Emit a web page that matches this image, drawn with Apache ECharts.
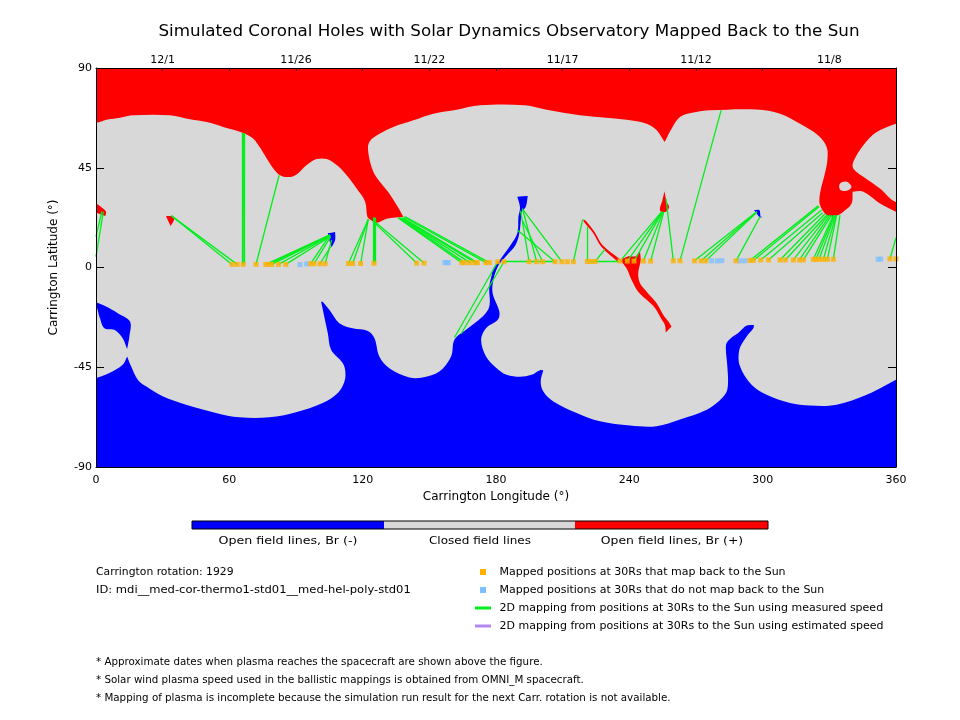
<!DOCTYPE html>
<html>
<head>
<meta charset="utf-8">
<title>Simulated Coronal Holes</title>
<script src="https://cdn.jsdelivr.net/npm/echarts@6/dist/echarts.min.js"></script>
<style>
  html, body { margin: 0; padding: 0; background: #fff; }
  #chart { width: 960px; height: 720px; }
</style>
</head>
<body>
<div id="chart"></div>
<script>
// date labels on the top axis (Carrington longitude -> date)
var dateLon = [30, 90, 150, 210, 270, 330];
var dateLabels = ['12/1', '11/26', '11/22', '11/17', '11/12', '11/8'];

// open field regions, [lon, lat]. a repeated pair keeps a cusp sharp,
// pairs beyond the axis range only push the outline past the clip
var northRed = [[-8,98],[-8,98],[-8,63.5],[0,65.2],[4.8,66.7],[10.8,67.6],[16.8,68.7],[33.3,68.7],[42.3,66.9],[49.8,65.6],[57.3,63.4],[66.3,60.7],[70.8,58.1],[73.8,54.1],[76.8,49.2],[79.8,44.7],[82.8,41.6],[86.6,40.8],[90.3,42],[94.8,46.2],[99.3,48.9],[103.8,48.9],[108.3,46.2],[112.8,41.6],[117.3,35.6],[121.1,29.7],[122.1,22.9],[123.3,21.7],[126.3,20.2],[130.8,22],[138.3,22.9],[138.3,22.9],[135.3,28.2],[131.5,34.1],[127.8,38.6],[124.8,43.2],[122.6,51.4],[123,56.6],[127.8,60.4],[133.8,63.4],[142.8,66.4],[151.8,69.4],[162.3,71.2],[172.8,73.2],[193,73.2],[202.8,71.2],[217.8,68.7],[238.8,66.7],[247.8,64.9],[252.3,61.9],[255.9,56.6],[255.9,56.6],[259,62.6],[262.8,67.9],[268.8,69.9],[276.3,70.9],[297.3,71.3],[307.8,69.4],[316.8,64.9],[325,59.6],[328.8,54.4],[329.1,48.4],[328,42.4],[325.8,33.4],[325.8,28.2],[328.8,23.7],[332.6,23.2],[336.3,25.2],[340,28.9],[340.5,34.2],[340.5,34.2],[345.3,34.2],[352.8,28.9],[360,25.2],[368,22],[368,22],[368,32],[360,29.6],[352.8,35.6],[345.3,40.9],[340.8,44.7],[340.8,47.7],[345.3,55.2],[351.3,61.1],[360,64.9],[368,67],[368,98],[368,98]];
var northHole = [[334.8,37.9],[337.8,38.7],[340,36.4],[337.8,34.6],[334.8,35.2]];
var redEdge = [[-4,30.5],[-4,30.5],[0,28.9],[2.6,27.1],[4.5,25.2],[4.2,23.2],[4.2,23.2],[0,24.7],[-4,25],[-4,25]];
var redSpot32 = [[31.5,23.2],[31.5,23.2],[34.8,23.2],[34.8,23.2],[35.1,21.4],[33.6,18.7],[33.6,18.7],[32.6,20.7]];
var redSpot255 = [[255.8,34.4],[255.8,34.4],[256.8,29.6],[257.9,27.4],[256.5,25.2],[253.8,25.6],[254.9,30.4]];
var redFilament = [[219.3,21.7],[219.3,21.7],[220.4,21.1],[224.2,16.2],[228,10],[235.8,3.7],[235.8,3.7],[234.6,2.8],[234.6,2.8],[227.4,9.4],[223.7,15.6],[219.6,20.5]];
var redTongue = [[235.8,3.4],[235.8,3.4],[239,4.9],[243,5.2],[244.8,7.1],[244.8,7.1],[245.1,3.4],[244,-2.6],[244.8,-7.1],[247.8,-10.9],[252.3,-16.1],[255.3,-21.4],[257.6,-24.4],[259,-26.6],[259,-26.6],[256.4,-29.3],[256.4,-29.3],[256,-25.9],[254.6,-23.6],[251.6,-18.4],[247.8,-14.6],[244,-10.9],[241,-5.6],[238.8,-0.4]];

var southBlue = [[-8,-98],[-8,-98],[-8,-52],[0,-49.9],[6,-47.6],[12,-43.9],[14,-40.1],[14,-40.1],[15.8,-44.6],[18.8,-50.6],[22.5,-53.6],[30,-58.1],[40.5,-61.9],[54,-65.6],[64.5,-67.6],[78,-67.6],[90,-65.3],[102,-61.1],[108.8,-56.6],[111.8,-51.4],[112.2,-46.9],[111,-43.1],[105.8,-37.1],[104.3,-29.6],[101.3,-15.4],[101.3,-15.4],[102,-15.4],[102,-15.4],[105,-19.1],[109.5,-25.1],[115.5,-27.4],[122.3,-28.6],[125.3,-31.9],[127.5,-40.1],[132,-45.4],[141,-49.6],[147,-49.6],[154.5,-46.9],[159.8,-40.1],[161.3,-32.6],[166.5,-28.1],[174,-22.1],[177,-17.6],[177,-8.6],[178.5,-2.6],[180.8,1.1],[180.8,1.1],[178.8,-4.9],[178.5,-11.6],[181.5,-19.9],[180.8,-23.6],[175.5,-27.4],[173.3,-32.6],[175.5,-40.1],[180.3,-45.4],[184.8,-48.4],[190.8,-49.3],[196,-48.4],[199.8,-46.3],[201.3,-46.4],[201.3,-46.4],[200.1,-51.4],[201.3,-55.9],[205.8,-60.4],[216.3,-65.6],[226.8,-69.4],[240.3,-71.3],[252.3,-71.6],[262.8,-68.6],[273.3,-64.9],[279.3,-61.1],[283.5,-56.6],[284.4,-52.1],[284.1,-44.6],[283.5,-34.9],[285.3,-32.2],[289,-29.6],[292.8,-26.2],[296.1,-25.9],[296.1,-25.9],[295.8,-27.4],[292.8,-31.1],[289.5,-37.1],[289.8,-44.6],[295,-52.9],[301.8,-57.4],[312.3,-61.1],[321.3,-62.3],[333.3,-61.9],[346.8,-57.4],[355.8,-52.9],[360,-50.6],[368,-48],[368,-98],[368,-98]];
var blueEdge = [[-4,-15],[-4,-15],[0,-15.8],[4.5,-17.6],[9.8,-20.6],[15.3,-24.4],[15,-31.1],[14,-36.8],[14,-36.8],[12,-31.9],[8.3,-28.1],[3.8,-27.4],[1.5,-22.1],[0,-17.6],[-4,-16],[-4,-16]];
var blueFilament = [[189.6,31.9],[189.6,31.9],[194.3,32.2],[194.3,32.2],[193.4,27.4],[191.5,25],[191.3,22.9],[190.5,15.4],[188.8,10.2],[184.3,4.9],[181.3,1.2],[179.1,-4.1],[178.5,-8],[178.5,-8],[178,-4.9],[178.8,-0.4],[181.5,3.1],[182.8,4.9],[186.6,10.2],[189.6,15.4],[190.1,22.9],[190.8,27.1]];
var blueSpot105 = [[104.3,15.4],[104.3,15.4],[107.6,16],[107.6,16],[107.6,12.4],[106,9.1],[106,9.1],[105,12.4]];
var blueSpot298 = [[296.1,25.9],[296.1,25.9],[298.5,25.9],[299.1,22.9],[300,22.9],[300,22.9],[298.8,22.6],[297,24.7]];

// positions at 30Rs that map back, with their foot points on the Sun
var mappedLon = [61.2,63.5,66.2,72,76.4,77.6,79.1,82.1,85.4,96.6,98.1,100.8,103.1,113.6,115.5,119.1,125.1,144.3,147.6,164.6,166,168.3,170.6,171.6,175.5,177,180.8,183.6,194.9,198.3,201,206.6,209.6,212.1,214.8,221.1,222.6,224.6,235.8,239.1,242.1,246.3,249.6,259.8,262.8,269.3,272.3,274.4,288,294.3,295.8,299.1,302.6,307.8,310.2,313.8,316.5,318.3,322.8,324,325.4,327.3,329.1,331.8,357.3,360];
var mappedLat = [1.4,1.4,1.4,1.4,1.4,1.4,1.4,1.4,1.4,1.7,1.7,1.7,1.7,1.8,1.8,1.8,1.9,2,2,2.2,2.2,2.2,2.2,2.2,2.2,2.2,2.6,2.6,2.6,2.6,2.6,2.6,2.6,2.6,2.6,2.7,2.7,2.7,2.9,2.9,2.9,2.9,2.9,3,3,3,3,3,3,3.2,3.2,3.4,3.4,3.4,3.4,3.4,3.4,3.4,3.7,3.7,3.7,3.7,3.7,3.7,3.9,3.9];
var footLon = [34.1,33.8,66.3,82.4,105.3,105.3,105.3,105.3,105.3,105.3,105.6,105.6,106,122.5,122.5,122.5,125.1,125.6,125.6,136,136.5,137,137.5,138,138.5,139,161.3,164.3,191.1,191.9,192,189.6,192.3,null,219,221.2,null,229,254.5,254.7,254.9,255.2,255.5,256.5,281.3,297.3,297.3,297.5,298.8,325,325.5,326.5,327,328,328.8,329.5,330.3,331,331.8,332.1,332.5,333,333.3,334.8,360,null];
var footLat = [23.2,23.4,60.7,41.6,14.7,14.7,14.5,14.2,13.9,14.7,13.9,9.4,12.4,21.7,21.7,21.7,22.6,19.9,20.5,22.4,22.4,22.4,22.4,22.4,22.8,23,-31.6,-29.9,25.6,26.6,21,16.9,25.9,null,21.7,18.4,null,8.2,25.1,25.1,25.1,25.1,25.1,31.1,70.9,25.1,25.1,25,22.9,27.8,27.5,25.9,24.7,24.1,23.6,23.6,23.6,23.6,23.6,23.6,23.6,23.6,23.6,23.6,13.4,null];

// segments not tied to one marker: wrapped lines, thick bundles, flat runs near the equator
var extraSegments = [[0,4.9,3.3,25.2],[0,13.9,2.6,25.2],[65.8,1.4,65.8,60.7],[66.8,1.4,66.8,60.7],[124.7,1.9,124.7,22.6],[125.6,1.9,125.6,22.6],[183,3,195,3],[195,2.7,207,2.7],[222,2.7,235.8,2.7]];

// positions at 30Rs that do not map back
var unmappedLon = [91.8,94.8,157,157.8,158.5,277,279.6,281.6,289.8,292,352,353.1];
var unmappedLat = [1.3,1.6,2.2,2.2,2.2,3,3,3.1,3,3,3.7,3.8];

var RED = '#ff0000', BLUE = '#0000ff', GRAY = '#d8d8d8';
var GREEN = '#00ee1c', ORANGE = '#ffb000', LIGHTBLUE = '#80bfff', PURPLE = '#b388ee';
var FONT = '"DejaVu Sans"';

var myChart = echarts.init(document.getElementById('chart'));

// filled region: the whole array is one polygon
function regionSeries(points, color, z) {
    return {
        type: 'custom',
        coordinateSystem: 'cartesian2d',
        silent: true,
        z: z,
        clip: true,
        data: points,
        encode: { x: 0, y: 1 },
        renderItem: function(params, api) {
            if (params.dataIndex !== 0) return;
            return {
                type: 'polygon',
                shape: { points: points.map(function(p) { return api.coord(p); }), smooth: 0.35 },
                style: { fill: color }
            };
        }
    };
}

function zipPoints(xs, ys) {
    return xs.map(function(x, i) { return [x, ys[i]]; });
}

var mapLines = [];
mappedLon.forEach(function(lon, i) {
    if (footLon[i] === null) return;
    mapLines.push({ coords: [[lon, mappedLat[i]], [footLon[i], footLat[i]]] });
});
extraSegments.forEach(function(s) {
    mapLines.push({ coords: [[s[0], s[1]], [s[2], s[3]]] });
});

// the original lettering runs wider than any installed font, so stretch it a little
function label(x, y, text, align, size, stretch) {
    return {
        type: 'text', x: x, y: y, scaleX: stretch || 1, silent: true,
        style: { text: text, fill: '#000', font: (size || 11) + 'px ' + FONT, textAlign: align || 'left', textVerticalAlign: 'middle' }
    };
}
function box(x, y, w, h, color) {
    return { type: 'rect', silent: true, shape: { x: x, y: y, width: w, height: h }, style: { fill: color } };
}

var option = {
    animation: false,
    backgroundColor: '#fff',
    grid: { left: 96, top: 68, width: 800, height: 399, show: true, backgroundColor: GRAY, borderWidth: 0 },
    xAxis: [{
        type: 'value', position: 'bottom', min: 0, max: 360, interval: 60, z: 10,
        name: 'Carrington Longitude (°)', nameLocation: 'middle', nameGap: 18,
        nameTextStyle: { fontFamily: FONT, fontSize: 12, color: '#000' },
        axisLine: { onZero: false, lineStyle: { color: '#000', width: 1 } },
        axisTick: { show: false },
        axisLabel: { color: '#000', fontFamily: FONT, fontSize: 11, margin: 8, showMinLabel: true, showMaxLabel: true },
        splitLine: { show: false }
    }, {
        type: 'value', position: 'top', min: 0, max: 360, interval: 30, z: 10,
        axisLine: { onZero: false, lineStyle: { color: '#000', width: 1 } },
        axisTick: { inside: true, length: 3, lineStyle: { color: '#000' } },
        axisLabel: {
            color: '#000', fontFamily: FONT, fontSize: 11, margin: 2,
            formatter: function(v) {
                var i = dateLon.indexOf(v);
                return i < 0 ? '' : dateLabels[i];
            }
        },
        splitLine: { show: false }
    }],
    yAxis: [{
        type: 'value', position: 'left', min: -90, max: 90, interval: 45, z: 10,
        name: 'Carrington Latitude (°)', nameLocation: 'middle', nameGap: 36, nameRotate: 90,
        nameTextStyle: { fontFamily: FONT, fontSize: 12, color: '#000' },
        axisLine: { onZero: false, lineStyle: { color: '#000', width: 1 } },
        axisTick: { inside: true, length: 8, lineStyle: { color: '#000' } },
        axisLabel: { color: '#000', fontFamily: FONT, fontSize: 11, margin: 4 },
        splitLine: { show: false }
    }, {
        type: 'value', position: 'right', min: -90, max: 90, interval: 45, z: 10,
        axisLine: { onZero: false, lineStyle: { color: '#000', width: 1 } },
        axisTick: { inside: true, length: 8, lineStyle: { color: '#000' } },
        axisLabel: { show: false },
        splitLine: { show: false }
    }],
    series: [
        regionSeries(northRed, RED, 2),
        regionSeries(northHole, GRAY, 3),
        regionSeries(redEdge, RED, 2),
        regionSeries(redSpot32, RED, 2),
        regionSeries(redSpot255, RED, 2),
        regionSeries(redFilament, RED, 2),
        regionSeries(redTongue, RED, 2),
        regionSeries(southBlue, BLUE, 2),
        regionSeries(blueEdge, BLUE, 2),
        regionSeries(blueFilament, BLUE, 2),
        regionSeries(blueSpot105, BLUE, 2),
        regionSeries(blueSpot298, BLUE, 2),
        {
            type: 'lines', coordinateSystem: 'cartesian2d', silent: true, z: 4,
            lineStyle: { color: GREEN, width: 1.3, opacity: 1 },
            data: mapLines
        },
        {
            type: 'scatter', silent: true, z: 5, symbol: 'rect', symbolSize: 5,
            itemStyle: { color: LIGHTBLUE },
            data: zipPoints(unmappedLon, unmappedLat)
        },
        {
            type: 'scatter', silent: true, z: 5, symbol: 'rect', symbolSize: 5,
            itemStyle: { color: ORANGE },
            data: zipPoints(mappedLon, mappedLat)
        }
    ],
    graphic: [
        label(509, 32, 'Simulated Coronal Holes with Solar Dynamics Observatory Mapped Back to the Sun', 'center', 15, 1.115),
        // colour bar
        box(192, 521, 192, 8, BLUE),
        box(384, 521, 191, 8, GRAY),
        box(575, 521, 193, 8, RED),
        { type: 'rect', silent: true, shape: { x: 192, y: 521, width: 576, height: 8 }, style: { fill: 'none', stroke: '#000', lineWidth: 1 } },
        label(288, 541, 'Open field lines, Br (-)', 'center', 11, 1.15),
        label(480, 541, 'Closed field lines', 'center', 11, 1.095),
        label(672, 541, 'Open field lines, Br (+)', 'center', 11, 1.13),
        // run info
        label(96, 572, 'Carrington rotation: 1929', 'left', 10.8),
        label(96, 590, 'ID: mdi__med-cor-thermo1-std01__med-hel-poly-std01', 'left', 11, 1.05),
        // legend
        box(480, 569, 6, 6, ORANGE),
        box(480, 587, 6, 6, LIGHTBLUE),
        box(475, 606.5, 16, 3, GREEN),
        box(475, 624.5, 16, 3, PURPLE),
        label(499.5, 572, 'Mapped positions at 30Rs that map back to the Sun'),
        label(499.5, 590, 'Mapped positions at 30Rs that do not map back to the Sun'),
        label(499.5, 608, '2D mapping from positions at 30Rs to the Sun using measured speed'),
        label(499.5, 626, '2D mapping from positions at 30Rs to the Sun using estimated speed'),
        // notes
        label(96, 662, '* Approximate dates when plasma reaches the spacecraft are shown above the figure.', 'left', 10.3),
        label(96, 680, '* Solar wind plasma speed used in the ballistic mappings is obtained from OMNI_M spacecraft.', 'left', 10.3),
        label(96, 698, '* Mapping of plasma is incomplete because the simulation run result for the next Carr. rotation is not available.', 'left', 10.3)
    ]
};

myChart.setOption(option);
</script>
</body>
</html>
